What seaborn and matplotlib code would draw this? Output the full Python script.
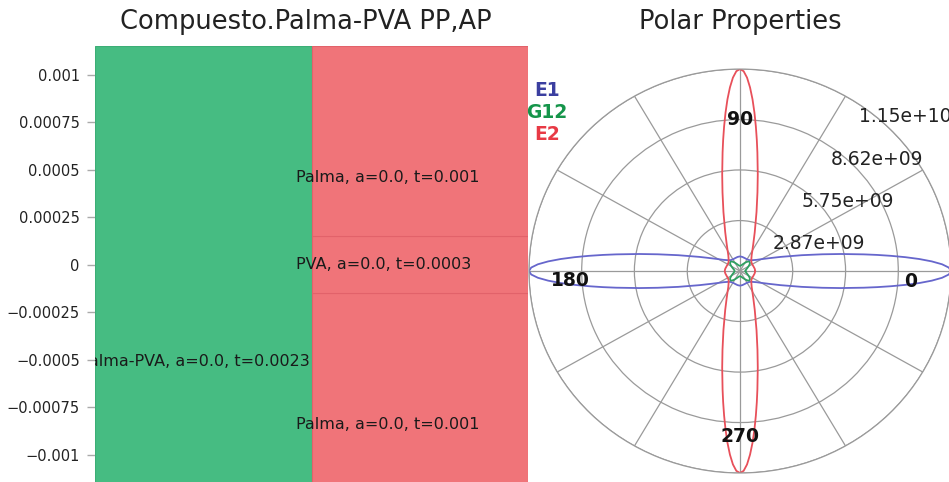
import matplotlib
matplotlib.use("Agg")
import matplotlib.pyplot as plt
import numpy as np
import seaborn as sns

# laminate plies (left panel)
ply_material = ["Palma-PVA", "Palma", "PVA", "Palma"]
ply_angle = [0.0, 0.0, 0.0, 0.0]
ply_thickness = [0.0023, 0.001, 0.0003, 0.001]
ply_stack = [0, 1, 1, 1]

y_ticks = [0.001, 0.00075, 0.0005, 0.00025, 0, -0.00025, -0.0005, -0.00075, -0.001]
y_tick_labels = ["0.001", "0.00075", "0.0005", "0.00025", "0",
                 "\u22120.00025", "\u22120.0005", "\u22120.00075", "\u22120.001"]

# polar properties, one quadrant each (values in 1e9 Pa)
e1_angles = [0, 1, 2, 3, 4, 5, 6, 7, 8, 10, 12, 15, 20, 25, 30, 35, 40, 45,
             50, 55, 60, 65, 70, 75, 80, 85, 90]
e1_values = [11.49, 11.37, 11.01, 10.46, 9.79, 9.04, 8.27, 7.52, 6.81, 5.58,
             4.58, 3.48, 2.35, 1.72, 1.35, 1.11, 0.97, 0.87, 0.81, 0.78, 0.77,
             0.77, 0.78, 0.79, 0.81, 0.82, 0.83]
e2_angles = [0, 5, 10, 15, 20, 25, 30, 35, 40, 45, 50, 55, 60, 65, 70, 75, 78,
             80, 82, 83, 84, 85, 86, 87, 88, 89, 90]
e2_values = [0.83, 0.82, 0.81, 0.79, 0.78, 0.77, 0.77, 0.78, 0.81, 0.87, 0.97,
             1.11, 1.35, 1.72, 2.35, 3.48, 4.58, 5.58, 6.81, 7.52, 8.27, 9.04,
             9.79, 10.46, 11.01, 11.37, 11.49]
g12_angles = [0, 5, 10, 15, 20, 25, 30, 35, 40, 45, 50, 55, 60, 65, 70, 75,
              80, 85, 90]
g12_values = [0.30, 0.30, 0.32, 0.35, 0.40, 0.46, 0.54, 0.63, 0.71, 0.74, 0.71,
              0.63, 0.54, 0.46, 0.40, 0.35, 0.32, 0.30, 0.30]

r_ticks = [2.87, 5.75, 8.62, 11.49]
r_tick_labels = ["2.87e+09", "5.75e+09", "8.62e+09", "1.15e+10"]
angle_labels = ["0", "90", "180", "270"]

sns.set_theme(style="white")
plt.rcParams['font.family'] = ['DejaVu Sans']

fig = plt.figure(figsize=(9.49, 4.82), dpi=100)

# ---- left: laminate stack
ax = fig.add_axes([0.1001, -0.003, 0.4563, 0.9066])
stack_colors = ["#46bc82", "#f07479"]
edge_colors = ["#3cae76", "#e2626a"]
label_y = [-0.00051, -0.00084, 0.0, 0.00046]   # where the labels sit

total = sum(ply_thickness[i] for i in range(len(ply_stack)) if ply_stack[i] == 0)
bottoms = {0: -total / 2, 1: -total / 2}
for i, (mat, ang, t, col) in enumerate(zip(ply_material, ply_angle, ply_thickness, ply_stack)):
    ax.bar(col + 0.5, t, bottom=bottoms[col], width=1.0, color=stack_colors[col],
           edgecolor=edge_colors[col], linewidth=0.8)
    bottoms[col] += t
    ax.text(col - 0.07, label_y[i], "{}, a={}, t={}".format(mat, ang, t),
            ha="left", va="center", fontsize=11.5, color="#1a1a1a", clip_on=True)

ax.set_xlim(0, 2)
ax.set_ylim(-total / 2, total / 2)
ax.set_xticks([])
ax.set_yticks(y_ticks)
ax.set_yticklabels(y_tick_labels)
ax.tick_params(axis="y", left=True, direction="out", length=6, width=1,
               color="#aaaaaa", labelsize=10.5, labelcolor="#222222", pad=5)
for s in ax.spines.values():
    s.set_visible(False)
fig.text(0.3225, 0.954, "Compuesto.Palma-PVA PP,AP", ha="center", va="center",
         fontsize=18.5, color="#222222")

# ---- right: polar properties
pax = fig.add_axes([0.5574, 0.0187, 0.4447, 0.838], projection="polar")
pax.set_aspect("auto")


def full_turn(angles, values):
    a = np.array(angles, dtype=float)
    v = np.array(values, dtype=float)
    th = np.concatenate([a, 180 - a[::-1], 180 + a, 360 - a[::-1]])
    rr = np.concatenate([v, v[::-1], v, v[::-1]])
    return np.deg2rad(th), rr


for angs, vals, c in [(e1_angles, e1_values, "#6666cc"),
                      (g12_angles, g12_values, "#2fa060"),
                      (e2_angles, e2_values, "#e8505a")]:
    th, rr = full_turn(angs, vals)
    sns.lineplot(x=th, y=rr, ax=pax, sort=False, estimator=None, color=c,
                 linewidth=1.3)

pax.set_ylim(0, r_ticks[-1])
pax.set_thetagrids(np.arange(0, 360, 30), labels=[""] * 12)
pax.set_rgrids(r_ticks, labels=[""] * 4)
pax.grid(True, color="#9a9a9a", linewidth=0.9)
pax.spines["polar"].set_color("#9a9a9a")
pax.spines["polar"].set_linewidth(0.9)
pax.set_xlabel("")
pax.set_ylabel("")

for rv, lab in zip(r_ticks, r_tick_labels):
    pax.annotate(lab, xy=(np.deg2rad(57), rv), xytext=(3, -11),
                 textcoords="offset points", ha="left", va="center",
                 fontsize=13.5, color="#222222")

angle_pos = [(-3.7, 0.81), (90, 0.748), (183.5, 0.807), (270, 0.817)]
for lab, (a, rf) in zip(angle_labels, angle_pos):
    pax.text(np.deg2rad(a), rf * r_ticks[-1], lab, ha="center", va="center",
             fontsize=13.5, fontweight="bold", color="#111111")

fig.text(0.7798, 0.954, "Polar Properties", ha="center", va="center",
         fontsize=18.5, color="#222222")

for lab, y, c in [("E1", 91, "#3b3fa0"), ("G12", 113, "#15954a"), ("E2", 135, "#e83a45")]:
    fig.text(547 / 949, 1 - y / 482, lab, ha="center", va="center",
             fontsize=13.5, fontweight="bold", color=c, zorder=10)

fig.savefig("out.png", dpi=100)
